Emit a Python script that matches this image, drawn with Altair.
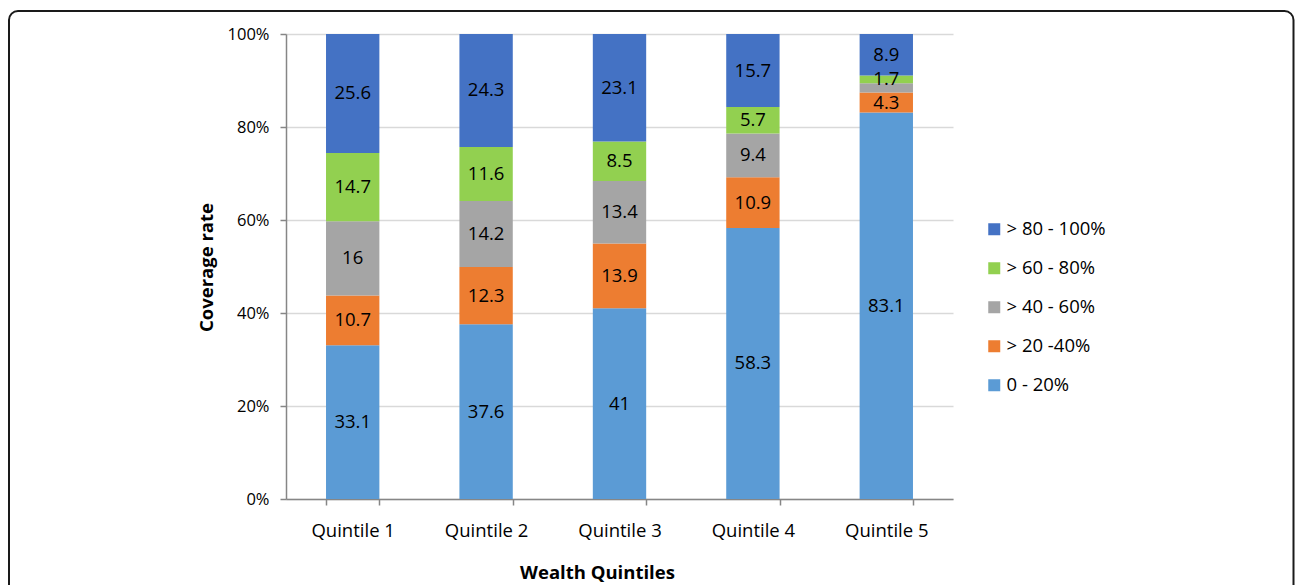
import altair as alt
import pandas as pd

# Coverage-rate bands per wealth quintile (percent of households)
quintiles = ["Quintile 1", "Quintile 2", "Quintile 3", "Quintile 4", "Quintile 5"]
bands = ["0 - 20%", "> 20 -40%", "> 40 - 60%", "> 60 - 80%", "> 80 - 100%"]
band_colors = ["#5B9BD5", "#ED7D31", "#A5A5A5", "#92D050", "#4472C4"]

share_0_20 = [33.1, 37.6, 41, 58.3, 83.1]
share_20_40 = [10.7, 12.3, 13.9, 10.9, 4.3]
share_40_60 = [16, 14.2, 13.4, 9.4, 2.0]
share_60_80 = [14.7, 11.6, 8.5, 5.7, 1.7]
share_80_100 = [25.6, 24.3, 23.1, 15.7, 8.9]

# segments whose value label is left off (too thin to carry text)
unlabelled = [("Quintile 5", "> 40 - 60%")]

series = [share_0_20, share_20_40, share_40_60, share_60_80, share_80_100]
rows = []
for rank, (band, values) in enumerate(zip(bands, series)):
    for q, v in zip(quintiles, values):
        rows.append({
            "quintile": q,
            "band": band,
            "rank": rank,
            "value": v,
            "label": "" if (q, band) in unlabelled else f"{v:g}",
        })
df = pd.DataFrame(rows)

FONT = "Open Sans"
legend_order = bands[::-1]
legend_colors = band_colors[::-1]

base = (
    alt.Chart(df)
    .transform_stack(
        stack="value",
        groupby=["quintile"],
        sort=[alt.SortField("rank", order="ascending")],
        as_=["v0", "v1"],
        offset="normalize",
    )
    .transform_calculate(mid="(datum.v0 + datum.v1) / 2")
)

x_enc = alt.X(
    "quintile:N",
    sort=quintiles,
    scale=alt.Scale(paddingInner=0.6, paddingOuter=0.3),
    axis=alt.Axis(
        title="Wealth Quintiles",
        labelAngle=0,
        tickBand="extent",
        labelBaseline="alphabetic",
        labelPadding=31,
        titleX=311,
        titleY=79,
        titleBaseline="alphabetic",
        grid=False,
    ),
)

bars = base.mark_bar().encode(
    x=x_enc,
    y=alt.Y(
        "v0:Q",
        scale=alt.Scale(domain=[0, 1], nice=False),
        axis=alt.Axis(
            title="Coverage rate",
            format="%",
            values=[0, 0.2, 0.4, 0.6, 0.8, 1.0],
            titleX=-80,
            titleY=233,
            titleBaseline="middle",
            labelPadding=11,
        ),
    ),
    y2="v1:Q",
    color=alt.Color(
        "band:N",
        scale=alt.Scale(domain=legend_order, range=legend_colors),
        title=None,
        legend=alt.Legend(
            orient="none",
            legendX=699,
            legendY=186,
            symbolType="square",
            symbolSize=144,
            symbolStrokeWidth=0,
            labelFontSize=18.5,
            labelFont=FONT,
            labelColor="#000000",
            labelOffset=3,
            rowPadding=20,
        ),
    ),
)

labels = base.mark_text(fontSize=18.5, font=FONT, color="#000000").encode(
    x=alt.X("quintile:N", sort=quintiles),
    y=alt.Y("mid:Q"),
    text="label:N",
)

# rounded outline around the whole figure
frame = alt.Chart(pd.DataFrame({"k": [0]})).mark_rect(
    fill="transparent", stroke="#1a1a1a", strokeWidth=2, cornerRadius=9
).encode(
    x=alt.value(-277), x2=alt.value(1007.5), y=alt.value(-23), y2=alt.value(580)
)

chart = (
    alt.layer(frame, bars, labels)
    .properties(
        width=667,
        height=465,
        autosize="none",
        padding={"left": 286, "top": 34, "right": 342, "bottom": 86},
        background="#ffffff",
    )
    .configure_view(stroke=None)
    .configure_axis(
        labelFont=FONT,
        titleFont=FONT,
        labelFontSize=16.5,
        titleFontSize=18.5,
        titleFontWeight="bold",
        labelColor="#000000",
        titleColor="#000000",
        domainColor="#868686",
        domainWidth=1.5,
        tickColor="#868686",
        tickWidth=1.5,
        tickSize=6,
        gridColor="#d9d9d9",
        gridWidth=1.5,
    )
    .configure_axisX(labelFontSize=18.5)
)

chart.save("out.html", embed_options={"renderer": "svg", "actions": False})
